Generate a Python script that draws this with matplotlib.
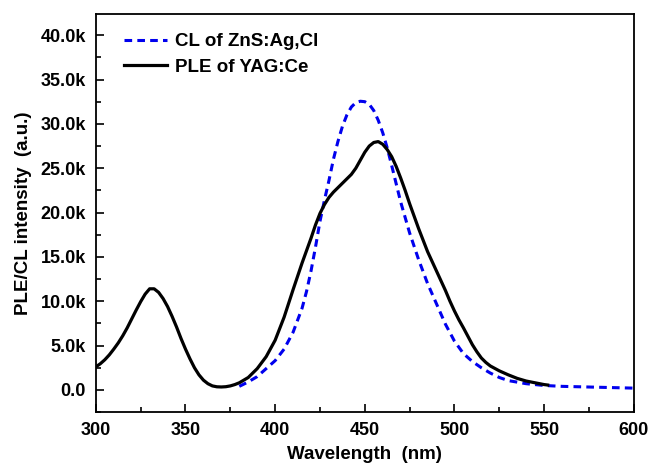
import matplotlib
matplotlib.use("Agg")
import matplotlib.pyplot as plt
from matplotlib.ticker import MultipleLocator, FuncFormatter

# PLE of YAG:Ce (wavelength nm, intensity in k counts)
ple_wl = [300, 302.5, 305, 307.5, 310, 312.5, 315, 317.5, 320, 322.5, 325, 327.5,
          330, 332.5, 335, 337.5, 340, 342.5, 345, 347.5, 350, 352.5, 355, 357.5,
          360, 362.5, 365, 367.5, 370, 372.5, 375, 377.5, 380, 385, 390, 395, 400,
          405, 410, 415, 420, 422.5, 425, 427.5, 430, 432.5, 435, 437.5, 440, 442.5,
          445, 447.5, 450, 452.5, 455, 457.5, 460, 462.5, 465, 467.5, 470, 472.5,
          475, 477.5, 480, 482.5, 485, 487.5, 490, 492.5, 495, 497.5, 500, 502.5,
          505, 510, 512.5, 515, 517.5, 520, 525, 530, 535, 540, 545, 550, 552]
ple_int = [2.6, 2.95, 3.4, 3.95, 4.6, 5.3, 6.1, 7.0, 8.0, 9.0, 9.95, 10.8,
           11.4, 11.4, 11.0, 10.3, 9.4, 8.3, 7.1, 5.8, 4.6, 3.5, 2.5, 1.7,
           1.1, 0.7, 0.45, 0.35, 0.33, 0.36, 0.45, 0.6, 0.8, 1.4, 2.4, 3.75, 5.6,
           8.2, 11.3, 14.3, 17.1, 18.6, 19.9, 20.9, 21.7, 22.3, 22.8, 23.3, 23.8, 24.3,
           25.0, 25.9, 26.8, 27.5, 27.9, 28.0, 27.7, 27.1, 26.3, 25.2, 23.9, 22.5,
           21.0, 19.6, 18.2, 16.9, 15.6, 14.5, 13.4, 12.3, 11.2, 10.0, 8.9, 7.9,
           7.0, 5.1, 4.3, 3.6, 3.1, 2.7, 2.15, 1.7, 1.3, 1.0, 0.8, 0.6, 0.55]

# CL of ZnS:Ag,Cl
cl_wl = [380, 385, 390, 395, 400, 405, 410, 415, 417.5, 420, 422.5, 425, 427.5,
         430, 432.5, 435, 437.5, 440, 442.5, 445, 447.5, 450, 452.5, 455, 457.5,
         460, 462.5, 465, 470, 475, 480, 485, 490, 495, 500, 505, 510, 515, 520,
         525, 530, 540, 550, 560, 580, 600]
cl_int = [0.4, 0.9, 1.5, 2.4, 3.3, 4.6, 6.5, 9.2, 11.1, 13.4, 16.1, 19.0, 21.4,
          23.6, 26.0, 28.0, 29.7, 31.0, 31.9, 32.4, 32.55, 32.5, 32.2, 31.5, 30.4,
          29.0, 27.3, 25.3, 21.2, 17.7, 14.7, 12.0, 9.7, 7.4, 5.5, 4.1, 3.2, 2.5, 1.9,
          1.4, 1.05, 0.7, 0.5, 0.4, 0.3, 0.2]

plt.rcParams['font.family'] = ['Liberation Sans', 'DejaVu Sans']
plt.rcParams['font.weight'] = 'bold'

fig = plt.figure(figsize=(6.52, 4.63), dpi=100)
ax = fig.add_subplot(111)
fig.subplots_adjust(left=0.147, right=0.972, top=0.970, bottom=0.110)

ax.plot(cl_wl, [v * 1000 for v in cl_int], color='#0000ee', lw=2.2,
        linestyle=(0, (2.5, 1.7)), label='CL of ZnS:Ag,Cl')
ax.plot(ple_wl, [v * 1000 for v in ple_int], color='black', lw=2.3,
        label='PLE of YAG:Ce')

ax.set_xlim(300, 600)
ax.set_ylim(-2500, 42400)
ax.xaxis.set_major_locator(MultipleLocator(50))
ax.xaxis.set_minor_locator(MultipleLocator(25))
ax.yaxis.set_major_locator(MultipleLocator(5000))
ax.yaxis.set_minor_locator(MultipleLocator(2500))
ax.yaxis.set_major_formatter(FuncFormatter(
    lambda v, p: '0.0' if v == 0 else '%.1fk' % (v / 1000)))

ax.tick_params(which='both', direction='in', width=1.2, labelsize=13)
ax.tick_params(which='major', length=6, pad=7)
ax.tick_params(which='minor', length=3.5)
for s in ax.spines.values():
    s.set_linewidth(1.3)

ax.set_xlabel('Wavelength  (nm)', fontsize=13.5, fontweight='bold', labelpad=5)
ax.set_ylabel('PLE/CL intensity  (a.u.)', fontsize=13.5, fontweight='bold', labelpad=6)

ax.legend(loc='upper left', bbox_to_anchor=(0.038, 0.97), frameon=False,
          fontsize=13.5, handlelength=2.3, handletextpad=0.43,
          borderaxespad=0, labelspacing=0.44)

fig.savefig('out.png', dpi=100)
